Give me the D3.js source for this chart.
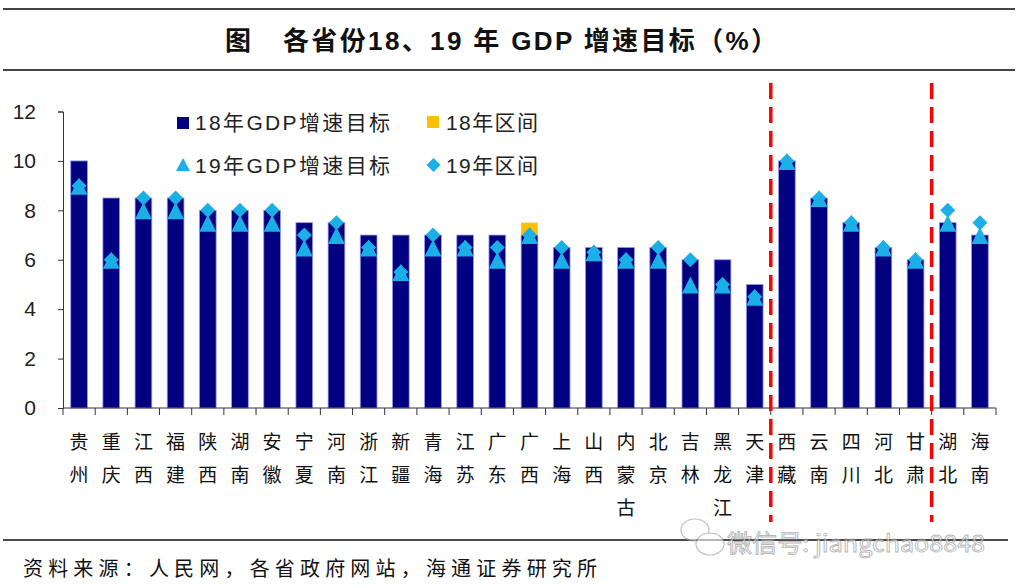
<!DOCTYPE html>
<html><head><meta charset="utf-8">
<script src="https://cdn.jsdelivr.net/npm/d3@7"></script>
<style>
html,body{margin:0;padding:0;background:#fff;}
svg{display:block;}
</style></head>
<body>
<svg id="chart" width="1021" height="588"></svg>
<script>
const provinces = ['贵州','重庆','江西','福建','陕西','湖南','安徽','宁夏','河南','浙江','新疆','青海','江苏','广东','广西','上海','山西','内蒙古','北京','吉林','黑龙江','天津','西藏','云南','四川','河北','甘肃','湖北','海南'];
const gdp18 = [10,8.5,8.5,8.5,8,8,8,7.5,7.5,7,7,7,7,7,7,6.5,6.5,6.5,6.5,6,6,5,10,8.5,7.5,6.5,6,7.5,7];
const range18Top = [null,null,null,null,null,null,null,null,null,null,null,null,null,null,7.5,null,null,null,null,null,null,null,null,null,null,null,null,null,null];
const target19 = [9,6,8,8,7.5,7.5,7.5,6.5,7,6.5,5.5,6.5,6.5,6,7,6,6.3,6,6,5,5,4.5,10,8.5,7.5,6.5,6,7.5,7];
const range19 = [9,6,8.5,8.5,8,8,8,7,7.5,6.5,5.5,7,6.5,6.5,7,6.5,6.3,6,6.5,6,5,4.5,10,8.5,7.5,6.5,6,8,7.5];
const yTicks = [0,2,4,6,8,10,12];
const dividers = ['西藏','湖北'];
const legendItems = ['18年GDP增速目标','18年区间','19年GDP增速目标','19年区间'];
const titleParts = ['图', '各省份18、19 年 GDP 增速目标（%）'];
const sourceText = '资料来源：人民网，各省政府网站，海通证券研究所';
const watermarkText = '微信号: jiangchao8848';

const NAVY = '#000080', LBLUE = '#1aafe6', YELLOW = '#ffc000';
const svg = d3.select('#chart');
const CJK = '"Noto Sans CJK SC", sans-serif';
const LAT = '"Liberation Sans", Arial, "Noto Sans CJK SC", sans-serif';

const x = d3.scaleBand().domain(provinces).range([63, 996]).paddingInner(0.48).paddingOuter(0.24);
const y = d3.scaleLinear().domain([0, 12]).range([408, 111.5]);

// rules
svg.append('line').attr('x1',3).attr('x2',1015).attr('y1',9).attr('y2',9).attr('stroke','#444').attr('stroke-width',2);
svg.append('line').attr('x1',3).attr('x2',1015).attr('y1',70).attr('y2',70).attr('stroke','#444').attr('stroke-width',2);
svg.append('line').attr('x1',3).attr('x2',1008).attr('y1',540).attr('y2',540).attr('stroke','#111').attr('stroke-width',1.5);

// title
svg.append('text').attr('x',225).attr('y',50)
  .attr('font-family',LAT).attr('font-weight','bold').attr('font-size',26).attr('fill','#111').text(titleParts[0]);
svg.append('text').attr('x',283).attr('y',50)
  .attr('font-family',LAT).attr('font-weight','bold').attr('font-size',26).attr('fill','#111')
  .attr('textLength',494).attr('lengthAdjust','spacing').text(titleParts[1]);

// y axis
const yAxis = d3.axisLeft(y).tickValues(yTicks).tickSize(5).tickPadding(8);
const gy = svg.append('g').attr('transform','translate(63,0)').call(yAxis);
gy.select('.domain').attr('stroke','#333');
gy.selectAll('.tick line').attr('stroke','#333');
gy.selectAll('.tick text').attr('font-family',LAT).attr('font-size',21).attr('fill','#222').attr('x',-27);

// bars
svg.append('g').selectAll('rect').data(provinces).join('rect')
  .attr('x', d => x(d)).attr('width', x.bandwidth())
  .attr('y', (d,i) => y(gdp18[i])).attr('height', (d,i) => y(0) - y(gdp18[i]))
  .attr('fill', NAVY).attr('stroke','#9999ee').attr('stroke-width',0.8);

// 18年区间 stacked
svg.append('g').selectAll('rect').data(provinces.filter((d,i)=>range18Top[i]!=null)).join('rect')
  .attr('x', d => x(d)).attr('width', x.bandwidth())
  .attr('y', d => y(range18Top[provinces.indexOf(d)]))
  .attr('height', d => { const i = provinces.indexOf(d); return y(gdp18[i]) - y(range18Top[i]); })
  .attr('fill', YELLOW);

// x axis
const gx = svg.append('g').attr('transform','translate(0,408)');
gx.append('line').attr('x1',63).attr('x2',996).attr('stroke','#333');
const step = x.step();
const bounds = provinces.map(d => x(d) - (step - x.bandwidth())/2).concat([996]);
gx.selectAll('line.tk').data(bounds).join('line').attr('class','tk')
  .attr('x1',d=>d).attr('x2',d=>d).attr('y1',0).attr('y2',7).attr('stroke','#333');

// x labels (vertical chars)
const lab = svg.append('g');
provinces.forEach(p => {
  const cx = x(p) + x.bandwidth()/2;
  Array.from(p).forEach((ch, k) => {
    lab.append('text').attr('x', cx).attr('y', 440 + k*33).attr('text-anchor','middle')
      .attr('dominant-baseline','central').attr('font-family',CJK).attr('font-size',19).attr('fill','#111').text(ch);
  });
});

// markers
const tri = (cx, cy) => `M${cx},${cy-8} L${cx+8.5},${cy+9} L${cx-8.5},${cy+9} Z`;
const dia = (cx, cy) => `M${cx},${cy-7.5} L${cx+7.5},${cy} L${cx},${cy+7.5} L${cx-7.5},${cy} Z`;
svg.append('g').selectAll('path').data(provinces).join('path')
  .attr('d', (d,i) => tri(x(d)+x.bandwidth()/2, y(target19[i]))).attr('fill', LBLUE);
svg.append('g').selectAll('path').data(provinces).join('path')
  .attr('d', (d,i) => dia(x(d)+x.bandwidth()/2, y(range19[i]))).attr('fill', LBLUE);

// dividers
dividers.forEach(p => {
  const bx = x(p) - (step - x.bandwidth())/2;
  svg.append('line').attr('x1',bx).attr('x2',bx).attr('y1',83).attr('y2',522)
    .attr('stroke','#ff0000').attr('stroke-width',3.5).attr('stroke-dasharray','16,8');
});

// legend
const lg = svg.append('g');
lg.append('rect').attr('x',177).attr('y',117).attr('width',12).attr('height',12).attr('fill',NAVY);
lg.append('path').attr('d',`M183,158 L190,171 L176,171 Z`).attr('fill',LBLUE);
lg.append('rect').attr('x',427).attr('y',116).attr('width',12).attr('height',12).attr('fill',YELLOW);
lg.append('path').attr('d',`M433.5,158 L440.5,165 L433.5,172 L426.5,165 Z`).attr('fill',LBLUE);
const lpos = [[195,122.5,195],[446,122.5,92],[195,165,195],[446,165,92]];
legendItems.forEach((t,i) => {
  lg.append('text').attr('x',lpos[i][0]).attr('y',lpos[i][1]).attr('dominant-baseline','central')
    .attr('font-family',LAT).attr('font-size',21).attr('fill','#222')
    .attr('textLength',lpos[i][2]).attr('lengthAdjust','spacing').text(t);
});

// source
svg.append('text').attr('x',23).attr('y',567).attr('dominant-baseline','central')
  .attr('font-family',CJK).attr('font-size',20).attr('fill','#111')
  .attr('textLength',574).attr('lengthAdjust','spacing').text(sourceText);

// watermark
const wm = svg.append('g').attr('opacity',0.6);
wm.append('ellipse').attr('cx',695).attr('cy',530).attr('rx',14).attr('ry',11).attr('fill','#fff').attr('stroke','#999').attr('stroke-width',1.2);
wm.append('ellipse').attr('cx',710).attr('cy',544).attr('rx',14).attr('ry',11).attr('fill','#fff').attr('stroke','#999').attr('stroke-width',1.2);
wm.append('text').attr('x',727).attr('y',541).attr('dominant-baseline','central')
  .attr('font-family','"Noto Sans CJK SC", sans-serif').attr('font-size',24).attr('fill','#fff')
  .attr('stroke','#888').attr('stroke-width',0.9).attr('textLength',258).attr('lengthAdjust','spacingAndGlyphs').text(watermarkText);
</script>
</body></html>
